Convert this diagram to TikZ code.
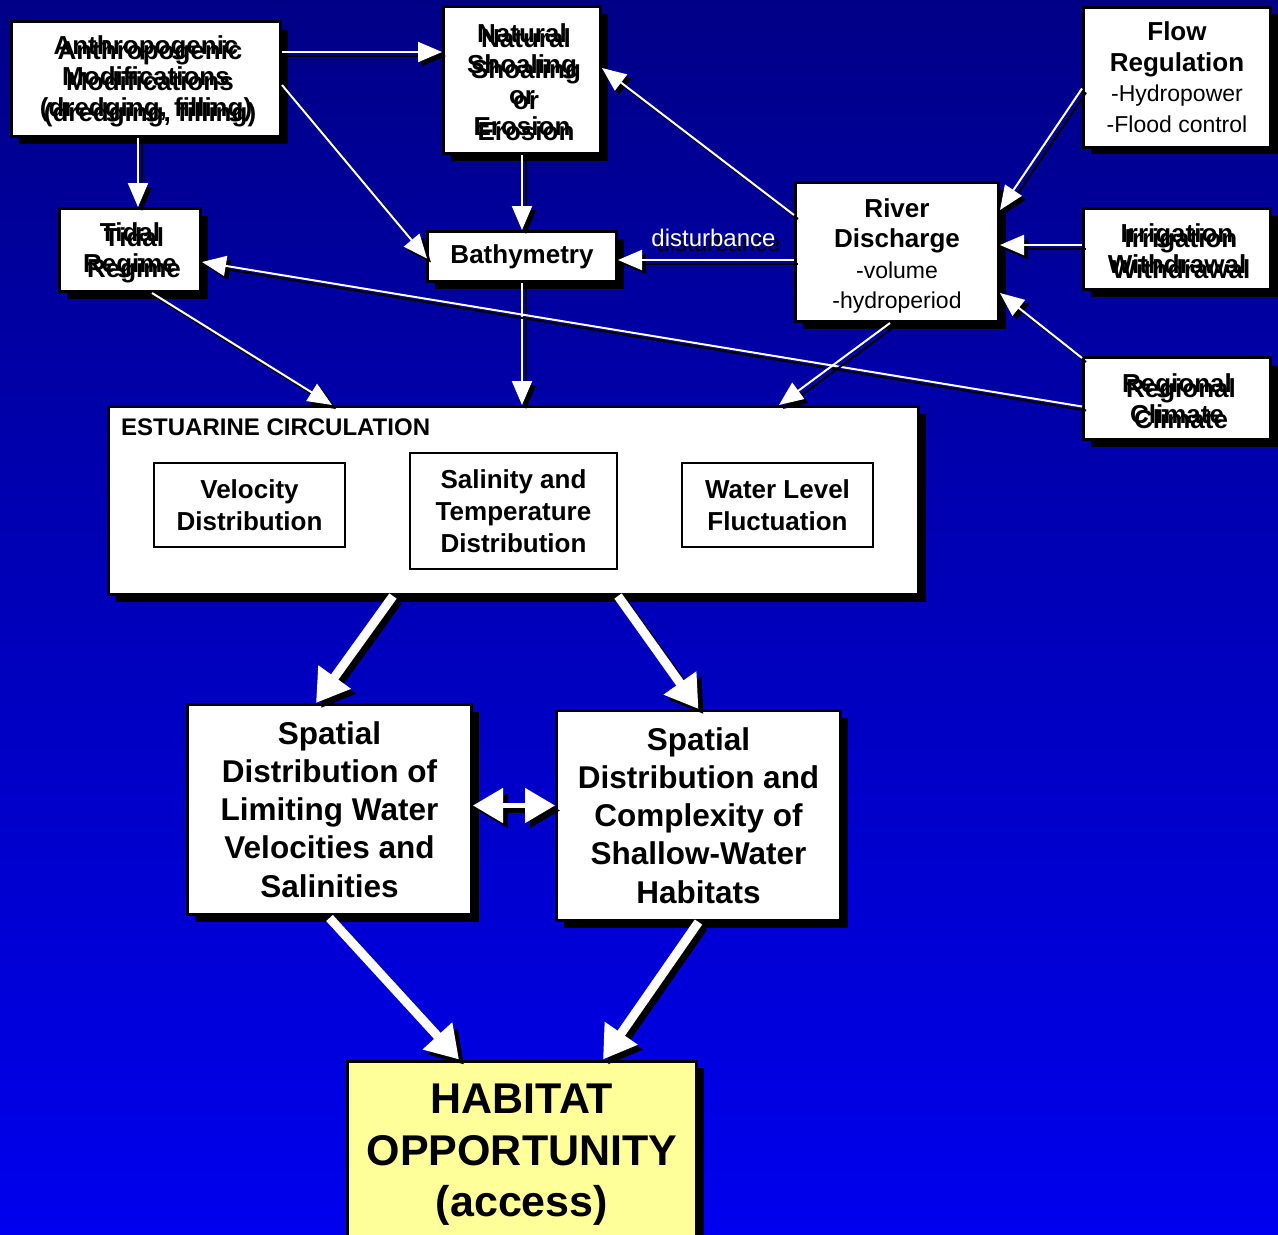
\documentclass[tikz,border=0pt]{standalone}
\usepackage{fontspec}
\setmainfont{Liberation Sans}
\usetikzlibrary{arrows.meta,calc,shadows}

\definecolor{navytop}{RGB}{0,0,135}
\definecolor{navybot}{RGB}{0,0,238}
\definecolor{habyellow}{RGB}{255,255,153}

\newcommand\fBox{\fontsize{26}{31}\selectfont\bfseries}
\newcommand\fPair{\fontsize{26}{30.5}\selectfont}
\newcommand\fSmall{\fontsize{23}{30.5}\selectfont}
\newcommand\fInner{\fontsize{26}{32}\selectfont\bfseries}
\newcommand\fBig{\fontsize{31.5}{38.2}\selectfont\bfseries}
\newcommand\fHab{\fontsize{43}{51.5}\selectfont\bfseries}
\newcommand\fHead{\fontsize{24}{28}\selectfont\bfseries}
\newcommand\fDist{\fontsize{24}{29}\selectfont}

% a connector drawn twice: a black copy offset down-right, then the white one
\newcommand\shadowdraw[3]{%
  \draw[#1, black, transform canvas={shift={(#2pt,-#2pt)}}] #3;
  \draw[#1, white] #3;}

\tikzset{
  box/.style={draw=black, line width=3pt, fill=white, inner sep=0pt, align=center, text=black,
    drop shadow={shadow xshift=7pt, shadow yshift=-7pt, opacity=1, fill=black}},
  inbox/.style={draw=black, line width=2pt, fill=white, inner sep=0pt, align=center,
    text=black, font=\fInner},
  sz/.style 2 args={minimum width=#1pt, minimum height=#2pt},
  ghost/.style={inner sep=0pt, align=center, text=black, font=\fBox},
  thinarrow/.style={line width=2pt, -{Triangle[length=24pt,width=20pt]}},
  bigarrow/.style={line width=9pt, -{Triangle[length=32pt,width=38pt]}},
  twoway/.style={line width=5pt, {Triangle[length=30pt,width=34pt]}-{Triangle[length=30pt,width=34pt]}},
}

\begin{document}
\begin{tikzpicture}[x=1pt,y=-1pt]
\useasboundingbox (0,0) rectangle (1278,1235);
\shade[top color=navytop, bottom color=navybot] (0,0) rectangle (1278,1235);

% driver boxes
\node[box, sz={269}{115}, font=\fBox] (anth) at (146,79) {Anthropogenic\\Modifications\\(dredging, filling)};
\node[ghost] (anthg) at ($(anth.center)+(4,5)$) {Anthropogenic\\Modifications\\(dredging, filling)};

\node[box, sz={157}{147}, font=\fBox] (nat) at (522,80) {Natural\\Shoaling\\or\\Erosion};
\node[ghost] (natg) at ($(nat.center)+(4,5)$) {Natural\\Shoaling\\or\\Erosion};

\node[box, sz={187}{140}, font=\fPair] (flow) at (1177,77) {\textbf{Flow}\\\textbf{Regulation}\\\fSmall -Hydropower\\\fSmall -Flood control};

\node[box, sz={141}{83}, font=\fBox] (tidal) at (130,250) {Tidal\\Regime};
\node[ghost] (tidalg) at ($(tidal.center)+(4,5)$) {Tidal\\Regime};

\node[box, sz={189}{50}, font=\fBox] (bath) at (522,256.5) {Bathymetry};

\node[box, sz={203}{139}] (river) at (897,252) {};
\node[inner sep=0pt, align=center, font=\fPair] (rivertxt) at ($(river.center)+(0,4)$) {\textbf{River}\\\textbf{Discharge}\\\fSmall -volume\\\fSmall -hydroperiod};

\node[box, sz={187}{81}, font=\fBox] (irrig) at (1177,249) {Irrigation\\Withdrawal};
\node[ghost] (irrigg) at ($(irrig.center)+(4,5)$) {Irrigation\\Withdrawal};

\node[box, sz={187}{82}, font=\fBox] (regional) at (1177,398.5) {Regional\\Climate};
\node[ghost] (regionalg) at ($(regional.center)+(4,5)$) {Regional\\Climate};

% estuarine circulation block
\node[box, sz={810}{188}] (estu) at (513.5,500.5) {};
\node[font=\fHead, anchor=west, inner sep=0pt] (estlab) at ($(estu.north west)+(14,22)$) {ESTUARINE CIRCULATION};
\node[inbox, sz={191}{84}] (vel) at (249.5,505) {Velocity\\Distribution};
\node[inbox, sz={207}{116}] (sal) at (513.5,511) {Salinity and\\Temperature\\Distribution};
\node[inbox, sz={191}{84}] (wl) at (777.5,505) {Water Level\\Fluctuation};

% outcomes
\node[box, sz={284}{210}, font=\fBig] (spl) at (329.5,809.5) {Spatial\\Distribution of\\Limiting Water\\Velocities and\\Salinities};
\node[box, sz={284}{210}, font=\fBig] (spr) at (698.5,815.5) {Spatial\\Distribution and\\Complexity of\\Shallow-Water\\Habitats};
\node[box, fill=habyellow, sz={349}{188}, font=\fHab] (hab) at (522,1155) {HABITAT\\OPPORTUNITY\\(access)};

% thin connectors
\shadowdraw{thinarrow}{4}{($(anth.north east)+(0,32)$) -- ($(nat.north west)+(0,47)$)}
\shadowdraw{thinarrow}{4}{($(anth.north east)+(0,65)$) -- ($(bath.west)+(1,2)$)}
\shadowdraw{thinarrow}{4}{($(anth.south)+(-8,0)$) -- ($(tidal.north)+(8,0)$)}
\shadowdraw{thinarrow}{4}{(nat.south) -- (bath.north)}
\shadowdraw{thinarrow}{4}{(bath.south) -- (bath.south |- estu.north)}
\shadowdraw{thinarrow}{4}{($(river.north west)+(0,34)$) -- ($(nat.north east)+(0,63)$)}
\coordinate (g1) at ($(river.west)+(0,8)$);
\shadowdraw{thinarrow}{4}{(g1) -- (bath.east |- g1)}
\shadowdraw{thinarrow}{4}{($(flow.north west)+(0,83)$) -- ($(river.north east)+(0,29)$)}
\coordinate (i1) at ($(irrig.west)+(0,-4)$);
\shadowdraw{thinarrow}{4}{(i1) -- (river.east |- i1)}
\shadowdraw{thinarrow}{4}{($(regional.north west)+(0,2)$) -- ($(river.south east)+(0,-30)$)}
\shadowdraw{thinarrow}{4}{($(regional.west)+(0,8)$) -- ($(tidal.east)+(0,12)$)}
\shadowdraw{thinarrow}{4}{($(tidal.south)+(22,0)$) -- ($(estu.north west)+(225,0)$)}
\shadowdraw{thinarrow}{4}{($(river.south)+(-7,0)$) -- ($(estu.north west)+(672,0)$)}

% label on the river-to-bathymetry link
\coordinate (distpos) at ($(g1)!0.5!(bath.east |- g1)+(7.5,-22)$);
\node[font=\fDist, text=black, inner sep=0pt] (distsh) at ($(distpos)+(5,5)$) {disturbance};
\node[font=\fDist, text=white, inner sep=0pt] (dist) at (distpos) {disturbance};

% heavy connectors
\shadowdraw{bigarrow}{5}{($(estu.south west)+(286,0)$) -- ($(spl.north west)+(130,0)$)}
\shadowdraw{bigarrow}{5}{($(estu.south west)+(511,0)$) -- (spr.north)}
\coordinate (p1) at ($(spl.east)+(0,-4)$);
\shadowdraw{twoway}{5}{(p1) -- (spr.west |- p1)}
\shadowdraw{bigarrow}{5}{($(spl.south)+(0,2)$) -- ($(hab.north west)+(113,0)$)}
\shadowdraw{bigarrow}{5}{(spr.south) -- ($(hab.north west)+(257,0)$)}
\end{tikzpicture}
\end{document}
